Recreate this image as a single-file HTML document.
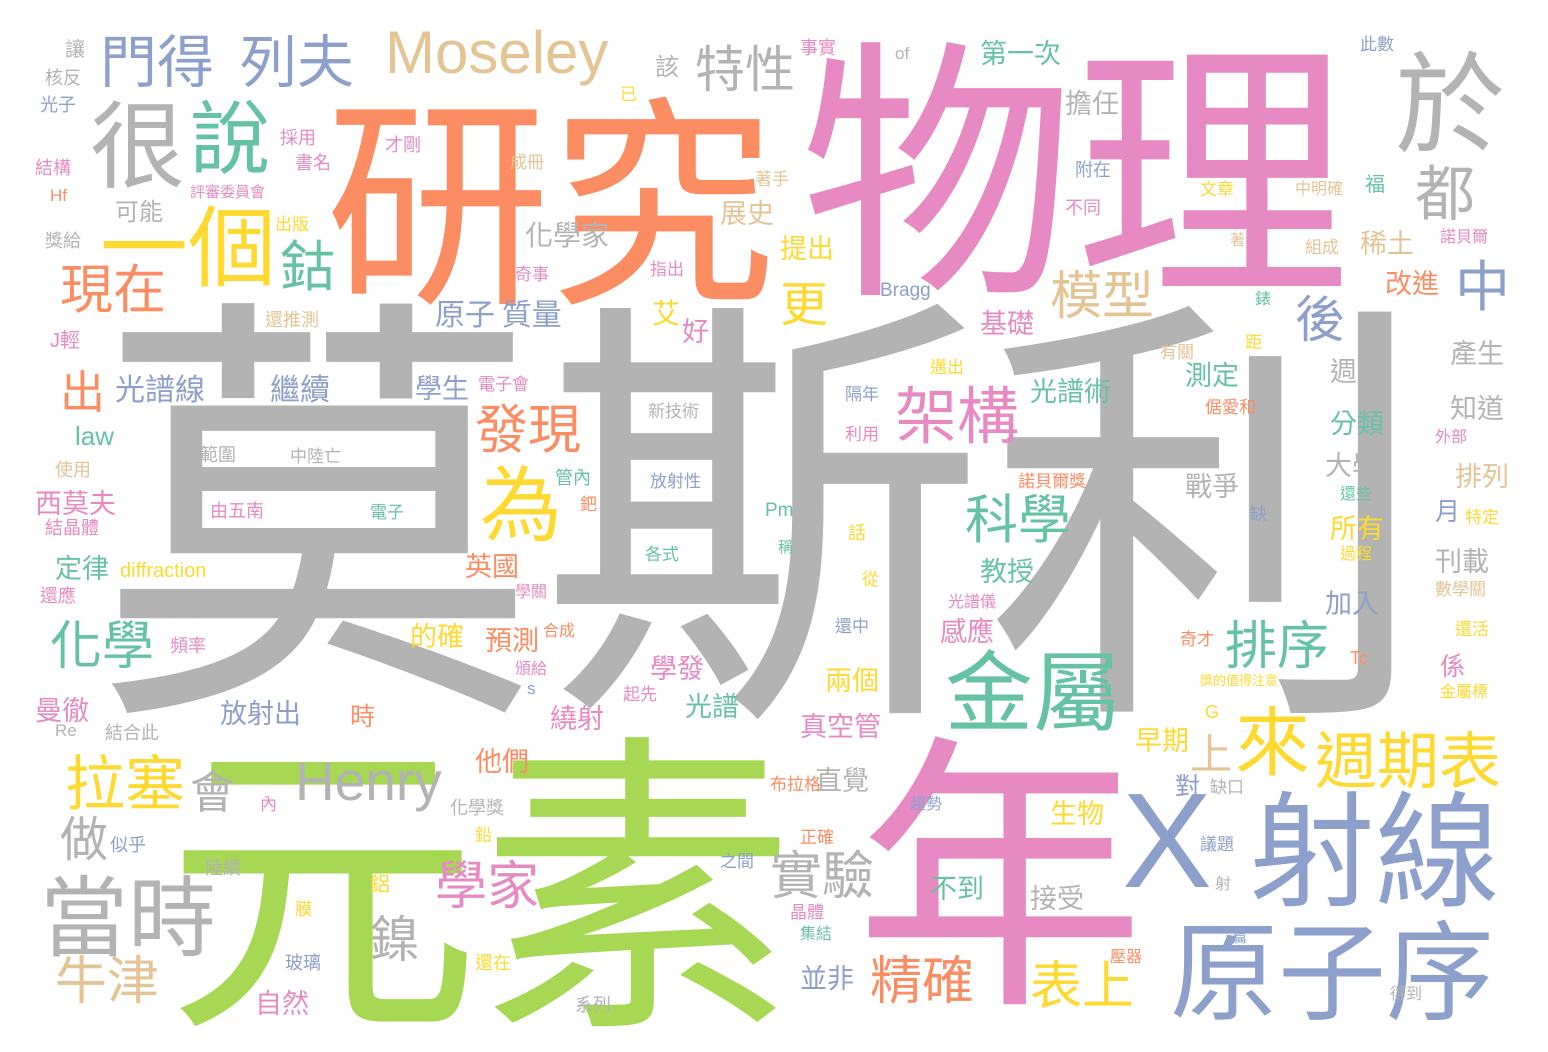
<!DOCTYPE html>
<html><head><meta charset="utf-8">
<style>
html,body{margin:0;padding:0;background:#fff;}
#cloud{position:relative;width:1548px;height:1052px;overflow:hidden;background:#fff;}
#cloud span{position:absolute;white-space:nowrap;line-height:1;font-family:"Liberation Sans","Noto Sans CJK TC","Noto Sans CJK SC",sans-serif;}
#cloud span.cjk{font-family:"Noto Sans CJK TC","Noto Sans CJK SC",sans-serif;}
</style></head>
<body>
<div id="cloud"></div>
<script>
const T='#66c2a5',O='#fc8d62',B='#8da0cb',P='#e78ac3',G='#a6d854',Y='#ffd92f',N='#e5c494',R='#b3b3b3';
// word, left, glyph top, font size, color
const words=[
['莫斯利',95,300,445,R],['研究',325,95,225,O],['物理',800,40,275,P],['元素',165,735,315,G],['年',855,735,290,P],
['射線',1250,790,125,B],['X',1122,800,135,B],['原子序',1170,920,108,B],['於',1395,50,110,R],['很',90,100,95,R],
['說',190,100,80,T],['一個',100,205,88,Y],['鈷',280,240,55,T],['現在',60,265,53,O],['門得',100,35,57,B],['列夫',240,35,57,B],
['Moseley',385,35,60,N],['特性',695,45,50,R],['都',1415,165,60,R],['中',1455,260,55,B],['後',1295,295,50,B],['更',780,280,48,Y],
['模型',1050,270,52,N],['架構',895,385,62,P],['發現',475,405,53,O],['為',480,465,82,Y],['科學',965,495,53,T],['金屬',945,650,88,T],
['排序',1225,620,52,T],['來',1235,705,75,Y],['上',1190,735,42,N],['週期表',1315,730,62,Y],['化學',50,620,52,T],['出',60,370,45,O],
['拉塞',65,755,60,Y],['會',190,770,45,R],['Henry',295,765,55,R],['做',60,815,48,R],['當時',40,875,88,R],['牛津',55,955,52,N],
['學家',435,860,52,P],['鎳',370,915,50,R],['實驗',770,850,52,R],['精確',870,955,52,O],['表上',1030,960,52,Y],
['光譜線',115,375,30,B],['繼續',270,375,30,B],['原子 質量',435,300,30,B],['化學家',525,222,28,R],['展史',720,200,27,N],['提出',780,235,27,Y],
['擔任',1065,90,27,R],['第一次',980,40,27,T],['稀土',1360,230,27,N],['改進',1385,270,27,O],['基礎',980,310,27,P],['光譜術',1030,378,27,T],
['測定',1185,362,27,T],['週期',1330,358,27,R],['產生',1450,340,27,R],['知道',1450,395,27,R],['分類',1330,410,27,T],['排列',1455,463,27,N],
['大學',1325,452,27,R],['戰爭',1185,473,27,R],['所有',1330,515,27,Y],['刊載',1435,548,27,R],['加入',1325,590,27,B],['教授',980,558,27,T],
['感應',940,618,27,P],['兩個',825,667,27,Y],['真空管',800,713,27,P],['早期',1135,727,27,Y],['直覺',815,767,27,R],['不到',930,875,27,T],
['接受',1030,885,27,R],['生物',1050,800,27,Y],['並非',800,965,27,B],['自然',255,990,27,P],['英國',465,553,27,O],['預測',485,627,27,O],
['的確',410,623,27,Y],['學發',650,655,27,P],['光譜',685,693,27,T],['繞射',550,705,27,P],['放射出',220,700,27,B],['時',350,705,25,O],
['他們',475,748,27,O],['定律',55,555,27,T],['西莫夫',35,490,27,P],['曼徹',35,697,27,P],['學生',415,375,27,B],['艾',652,300,28,Y],
['好',682,318,27,P],['對',1175,775,25,B],['係',1440,655,25,P],['月',1435,500,25,B],
['law',75,428,26,T],['diffraction',120,565,20,Y],['Bragg',880,285,19,B],['Pm',765,505,19,T],['Tc',1350,653,18,O],['G',1205,707,18,Y],
['Re',55,725,17,R],['s',527,683,17,B],['of',895,48,17,R],['Hf',50,190,17,O],
['讓',65,40,20,R],['核反',45,70,18,R],['光子',40,97,18,B],['結構',35,160,18,P],['獎給',45,233,18,R],['J輕',50,335,20,P],['使用',55,462,18,N],
['結晶體',45,520,18,P],['還應',40,588,18,P],['頻率',170,638,18,P],['結合此',105,725,18,R],['似乎',110,837,18,B],['陸續',205,860,18,R],
['內',260,795,17,P],['化學獎',450,800,18,R],['鉛',475,826,17,Y],['鋁',370,875,20,Y],['膜',295,900,17,Y],['玻璃',285,955,18,B],
['還在',475,955,18,Y],['系列',575,997,18,R],['書名',295,155,18,P],['採用',280,130,18,P],['才剛',385,137,18,P],['評審委員會',190,185,15,P],
['出版',275,215,17,Y],['可能',115,200,24,R],['已',620,85,17,Y],['該',655,55,24,R],['成冊',510,153,17,N],['奇事',515,265,17,P],
['指出',650,260,17,P],['還推測',265,312,18,N],['電子會',478,375,17,P],['新技術',648,402,17,R],['範圍',200,447,18,R],['中陸亡',290,447,17,R],
['由五南',210,503,18,P],['電子',370,503,17,T],['管內',555,470,18,T],['鈀',580,495,17,O],['放射性',650,472,17,B],['各式',645,545,17,T],
['話',848,525,18,Y],['稱',778,540,15,T],['從',862,570,17,Y],['學關',515,583,16,P],['合成',543,622,16,O],['頒給',515,660,16,P],
['起先',623,685,17,P],['還中',835,617,17,B],['光譜儀',948,593,16,P],['事實',800,40,18,P],['著手',755,170,17,N],['附在',1075,162,18,B],
['不同',1065,200,18,P],['文章',1200,180,17,Y],['中明確',1295,180,16,N],['福',1365,175,20,T],['諾貝爾',1440,228,16,P],['著',1230,233,15,N],
['組成',1305,238,17,N],['錶',1255,290,16,T],['距',1245,333,17,Y],['有關',1160,343,17,N],['邁出',930,358,17,Y],['隔年',845,385,17,B],
['利用',845,425,17,P],['倨愛和',1205,398,17,O],['外部',1435,428,16,P],['諾貝爾獎',1018,472,17,O],['缺',1250,505,17,B],['還些',1340,485,16,T],
['特定',1465,508,17,Y],['過程',1340,545,16,Y],['數學關',1435,580,17,N],['還活',1455,620,17,Y],['奇才',1180,630,17,O],['獎的值得注意',1200,674,13,Y],
['金屬標',1440,683,16,Y],['缺口',1210,778,17,R],['議題',1200,835,17,B],['射',1215,875,16,R],['趨勢',910,795,16,B],['布拉格',770,775,17,O],
['正確',800,828,17,O],['之間',720,852,17,B],['晶體',790,903,17,P],['集結',800,925,16,T],['壓器',1110,948,16,O],['篇',1232,930,15,B],
['得到',1390,985,16,R],['此數',1360,35,17,B]
];
const cloud=document.getElementById('cloud');
words.forEach(function(w,i){
  const el=document.createElement('span');
  
  
  const latin=/^[A-Za-z]/.test(w[0]);
  if(!latin) el.className='cjk';
  el.textContent=w[0];
  el.style.left=w[1]+'px';
  el.style.top=(w[2]-(latin?0.2:0.085)*w[3])+'px';
  el.style.fontSize=w[3]+'px';
  el.style.color=w[4];
  cloud.appendChild(el);
});
</script>
</body></html>
